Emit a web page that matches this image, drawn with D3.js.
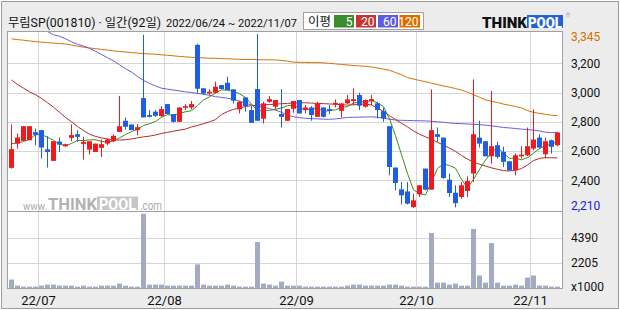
<!DOCTYPE html>
<html><head><meta charset="utf-8">
<script src="https://cdn.jsdelivr.net/npm/d3@7"></script>
<style>body{margin:0;background:#fff}svg{display:block}</style>
</head><body><svg id="c" width="620" height="310"></svg>
<script>
const opens=[2485,2651,2670,2674,2729,2743,2612,2533,2665,2633,2690,2715,2649,2610,2594,2622,2651,2667,2731,2807,2782,2743,2962,2846,2869,2839,2921,2853,2800,2896,2898,3326,3029,2994,2999,3051,3067,3022,2885,2967,2880,3024,2821,2937,2903,2853,2807,2889,2949,2880,2898,2834,2898,2887,2921,2875,2926,2942,2983,2903,2942,2926,2873,2770,2487,2338,2324,2217,2304,2480,2336,2715,2692,2404,2315,2286,2327,2446,2692,2667,2564,2640,2594,2530,2468,2564,2571,2617,2692,2578,2674,2640];
const highs=[2782,2720,2770,2770,2754,2743,2702,2667,2693,2651,2782,2743,2697,2667,2651,2679,2686,2713,2976,2830,2782,2784,3395,2880,2880,2907,2921,2853,2898,2921,2942,3333,3029,3022,3074,3051,3109,3022,2944,2967,2907,3400,2937,2976,2949,3024,2887,2942,2949,2914,2907,2937,2898,2914,2953,2926,2983,3029,2999,2953,2983,2937,2896,2770,2487,2388,2388,2308,2366,2480,3022,2761,2692,2446,2366,2388,2427,3090,2807,2667,3010,2663,2629,2530,2583,2633,2761,2885,2715,2692,2679,2731];
const lows=[2480,2617,2670,2674,2640,2549,2487,2533,2594,2629,2667,2663,2542,2576,2594,2560,2640,2660,2731,2747,2743,2708,2830,2830,2834,2834,2853,2793,2800,2880,2885,2994,2983,2983,2994,3024,3017,2926,2857,2869,2793,2807,2789,2930,2880,2761,2807,2862,2857,2857,2807,2834,2830,2853,2898,2830,2921,2914,2880,2898,2914,2823,2800,2434,2331,2235,2235,2210,2286,2331,2336,2663,2411,2286,2215,2274,2286,2388,2624,2564,2514,2549,2491,2468,2434,2549,2564,2606,2617,2549,2583,2633];
const closes=[2613,2693,2770,2770,2711,2624,2594,2667,2644,2647,2709,2697,2663,2667,2651,2647,2679,2704,2770,2766,2743,2763,2830,2834,2841,2887,2853,2800,2898,2907,2921,3026,2994,3006,3040,3024,3017,2944,2937,2907,2793,2807,2926,2955,2949,2834,2887,2942,2857,2898,2846,2926,2834,2875,2930,2926,2953,2955,2910,2949,2955,2880,2823,2491,2382,2297,2240,2263,2366,2336,2743,2697,2416,2313,2244,2366,2395,2715,2651,2564,2633,2560,2526,2468,2571,2576,2633,2679,2624,2667,2629,2727];
const volumes=[735,206,118,118,118,206,294,294,206,206,206,118,206,118,118,206,206,206,382,206,118,118,6468,294,294,294,206,206,206,206,206,2058,294,206,206,206,294,206,118,118,118,3998,382,294,206,559,206,206,206,118,118,118,118,118,118,118,206,294,294,206,206,206,206,294,294,206,118,118,118,118,4792,470,470,294,382,206,206,5145,1088,470,3910,470,206,206,294,206,911,1088,206,206,118,118];
const ma5Start=[2651,2655,2665,2680];
const ma20=[3086,3055,3030,3005,2985,2960,2930,2900,2865,2830,2800,2768,2740,2715,2700,2690,2683,2677,2675,2677,2683,2690,2697,2702,2710,2720,2728,2736,2743,2750,2765,2775,2787,2800,2815,2850,2870,2885,2893,2905,2910,2914,2916,2918,2921,2923,2926,2928,2930,2930,2928,2926,2924,2922,2920,2917,2914,2916,2920,2921,2915,2895,2870,2842,2815,2790,2765,2737,2715,2697,2680,2660,2640,2620,2598,2570,2545,2525,2510,2497,2485,2475,2466,2464,2470,2480,2505,2535,2550,2555,2554,2553];
const ma60=[null,null,null,null,null,null,3418,3395,3385,3368,3347,3330,3318,3302,3282,3260,3238,3217,3190,3163,3140,3110,3083,3062,3045,3030,3023,3017,3011,3005,3000,2994,2989,2981,2972,2967,2961,2954,2941,2928,2915,2905,2898,2890,2880,2865,2845,2835,2828,2824,2822,2820,2818,2817,2820,2825,2830,2831,2832,2833,2834,2831,2825,2818,2812,2810,2809,2808,2807,2806,2804,2800,2797,2792,2789,2787,2785,2783,2780,2777,2772,2767,2761,2758,2754,2750,2747,2743,2737,2729,2726,2725];
const ma120=[3367,3362,3358,3353,3348,3345,3341,3338,3335,3332,3325,3317,3310,3305,3300,3295,3290,3285,3281,3277,3273,3270,3266,3264,3262,3258,3255,3251,3247,3244,3241,3239,3237,3235,3234,3232,3231,3229,3227,3226,3226,3225,3224,3224,3223,3220,3215,3208,3207,3206,3205,3205,3203,3200,3196,3192,3189,3185,3182,3179,3175,3168,3160,3152,3137,3122,3102,3092,3083,3074,3064,3055,3045,3037,3027,3017,3003,2985,2968,2950,2940,2932,2921,2913,2904,2895,2876,2865,2857,2851,2845,2842];
const priceTicks=[3200,3000,2800,2600,2400];
const volTicks=[2205,4390];
const monthLabels=["22/07","22/08","22/09","22/10","22/11"];
const monthStartIdx=[5,26,48,68,87];
const maxLabel="3,345", minLabel="2,210";
const legendItems=[{t:"5",c:"#3b8c2a"},{t:"20",c:"#c83434"},{t:"60",c:"#5c5ce0"},{t:"120",c:"#dc6e00"}];
const titleName="무림SP(001810) · 일간(92일)";
const titleRange="2022/06/24 ~ 2022/11/07";

// 5-day moving average from closes (first values)
const ma5=closes.map((c,i)=> i<4 ? ma5Start[i] : d3.mean(closes.slice(i-4,i+1)));

const N=closes.length;
const svg=d3.select("#c");
const FONT="Roboto, 'Noto Sans', sans-serif";
const KFONT="Roboto, 'Noto Sans CJK KR', sans-serif";

const x=d3.scaleBand().domain(d3.range(N)).range([8,560]);
const y=d3.scaleLinear().domain([2400,3200]).range([180.3,63.3]);
const yv=d3.scaleLinear().domain([0,4390]).range([288,237.6]);
const cx=i=>x(i)+3.5;

// background
svg.append("rect").attr("x",0).attr("y",0).attr("width",620).attr("height",310).attr("fill","#fff");
svg.append("rect").attr("x",1.5).attr("y",1.5).attr("width",617).attr("height",307).attr("fill","#ececec").attr("stroke","#9c9c9c");
svg.append("rect").attr("x",7.5).attr("y",31.5).attr("width",555).attr("height",257).attr("fill","#fff");

const defs=svg.append("defs");
defs.append("clipPath").attr("id","pclip").append("rect").attr("x",8).attr("y",32).attr("width",554).attr("height",179);

// grid
const grid=svg.append("g").attr("stroke","#d6d6d6").attr("stroke-width",1);
priceTicks.forEach(t=>grid.append("line").attr("x1",8).attr("x2",562).attr("y1",Math.round(y(t))+0.5).attr("y2",Math.round(y(t))+0.5));
volTicks.forEach(t=>grid.append("line").attr("x1",8).attr("x2",562).attr("y1",Math.round(yv(t))+0.5).attr("y2",Math.round(yv(t))+0.5));
monthStartIdx.forEach(i=>grid.append("line").attr("x1",x(i)+0.5).attr("x2",x(i)+0.5).attr("y1",32).attr("y2",288));

// watermark
const wm=svg.append("g");
wm.append("text").attr("x",23).attr("y",209.5).attr("font-family",FONT).attr("font-size",11).attr("textLength",24).attr("lengthAdjust","spacingAndGlyphs").attr("fill","#aaaaaa").text("www.");
wm.append("text").attr("x",48).attr("y",209.5).attr("font-family",FONT).attr("font-weight","bold").attr("font-size",17).attr("textLength",49).attr("lengthAdjust","spacingAndGlyphs").attr("fill","#b2b2b2").text("THINK");
wm.append("rect").attr("x",97).attr("y",196.5).attr("width",41).attr("height",13.5).attr("fill","#c6c6c6");
wm.append("text").attr("x",99).attr("y",209.5).attr("font-family",FONT).attr("font-weight","bold").attr("font-size",16).attr("textLength",37).attr("lengthAdjust","spacingAndGlyphs").attr("fill","#ffffff").text("POOL");
wm.append("text").attr("x",140).attr("y",209.5).attr("font-family",FONT).attr("font-size",12).attr("textLength",22).attr("lengthAdjust","spacingAndGlyphs").attr("fill","#aaaaaa").text(".com");

// MA lines
const pg=svg.append("g").attr("clip-path","url(#pclip)");
const line=d3.line().defined(d=>d!=null).x((d,i)=>cx(i)).y(d=>y(d));
function drawMA(arr,color){
  pg.append("path").datum(arr).attr("fill","none").attr("stroke",color).attr("stroke-width",1).attr("d",line);
}
drawMA(ma120,"#d87000");
drawMA(ma60,"#6a5ce0");
drawMA(ma20,"#b52a2a");
drawMA(ma5,"#3a8c1e");

// candles
const UP="#f01a1e", DOWN="#1f5ee2";
const cg=pg.append("g");
d3.range(N).forEach(i=>{
  const up=closes[i]>=opens[i];
  const col=up?UP:DOWN;
  cg.append("line").attr("x1",cx(i)).attr("x2",cx(i)).attr("y1",y(highs[i])).attr("y2",y(lows[i])).attr("stroke",col).attr("stroke-width",1);
  const t=y(Math.max(opens[i],closes[i])), b=y(Math.min(opens[i],closes[i]));
  cg.append("rect").attr("x",x(i)+1).attr("y",t).attr("width",5).attr("height",Math.max(1.2,b-t)).attr("fill",col);
});

// volume
svg.append("g").selectAll("rect").data(volumes).join("rect")
  .attr("x",(d,i)=>x(i)+1).attr("width",5)
  .attr("y",d=>yv(d)).attr("height",d=>288-yv(d)).attr("fill","#a3abc4");

// frame
svg.append("rect").attr("x",7.5).attr("y",31.5).attr("width",555).attr("height",257).attr("fill","none").attr("stroke","#a0a0a0");
svg.append("line").attr("x1",7.5).attr("x2",562.5).attr("y1",211.5).attr("y2",211.5).attr("stroke","#a0a0a0");

// right axis labels
const ax=svg.append("g").attr("transform","translate(562,0)")
  .call(d3.axisRight(y).tickValues(priceTicks).tickSize(0).tickPadding(9).tickFormat(d3.format(",")));
ax.select(".domain").remove();
ax.selectAll("text").attr("font-family",FONT).attr("font-size",12).attr("fill","#111");
const axv=svg.append("g").attr("transform","translate(562,0)")
  .call(d3.axisRight(yv).tickValues(volTicks).tickSize(0).tickPadding(9).tickFormat(d3.format("d")));
axv.select(".domain").remove();
axv.selectAll("text").attr("font-family",FONT).attr("font-size",12).attr("fill","#111");
svg.append("text").attr("x",571).attr("y",37).attr("dy","0.35em").attr("font-family",FONT).attr("font-size",12).attr("fill","#d86e00").text(maxLabel);
svg.append("text").attr("x",571).attr("y",206).attr("dy","0.35em").attr("font-family",FONT).attr("font-size",12).attr("fill","#1a1ad2").text(minLabel);
svg.append("text").attr("x",571).attr("y",286.5).attr("dy","0.35em").attr("font-family",FONT).attr("font-size",12).attr("fill","#111").text("x1000");

// x axis labels
monthStartIdx.forEach((idx,k)=>{
  svg.append("text").attr("x",x(idx)+0.5).attr("y",300.5).attr("dy","0.35em").attr("text-anchor","middle")
    .attr("font-family",FONT).attr("font-size",13).attr("fill","#111").text(monthLabels[k]);
});

// title (two parts)
svg.append("text").attr("x",8).attr("y",27).attr("font-family",KFONT).attr("font-size",12).attr("fill","#111")
  .attr("textLength",153).attr("lengthAdjust","spacingAndGlyphs").text(titleName);
svg.append("text").attr("x",297).attr("y",27).attr("text-anchor","end").attr("font-family",FONT).attr("font-size",11.7).attr("fill","#111")
  .attr("textLength",131).attr("lengthAdjust","spacingAndGlyphs").text(titleRange);

// legend
svg.append("rect").attr("x",303.5).attr("y",12.5).attr("width",120).attr("height",17).attr("fill","#fff").attr("stroke","#a0a0a0");
svg.append("text").attr("x",308).attr("y",26).attr("font-family",KFONT).attr("font-size",12).attr("textLength",23).attr("lengthAdjust","spacingAndGlyphs").attr("fill","#111").text("이평");
const lx=[334,356,378,399.5], lw=[20,20,20,20.5];
legendItems.forEach((it,k)=>{
  svg.append("rect").attr("x",lx[k]).attr("y",15).attr("width",lw[k]).attr("height",12.5).attr("fill",it.c);
  svg.append("text").attr("x",lx[k]+lw[k]-1.5).attr("y",25.8).attr("text-anchor","end").attr("font-family",FONT).attr("font-size",12).attr("fill","#fff").text(it.t);
});

// logo
svg.append("text").attr("x",482).attr("y",27.5).attr("font-family",FONT).attr("font-weight","900").attr("font-size",15).attr("textLength",45).attr("lengthAdjust","spacingAndGlyphs").attr("fill","#111").text("THINK");
svg.append("rect").attr("x",527).attr("y",15).attr("width",36).attr("height",13).attr("fill","#1f62d8");
svg.append("text").attr("x",528).attr("y",27.5).attr("font-family",FONT).attr("font-weight","900").attr("font-size",15).attr("textLength",34).attr("lengthAdjust","spacingAndGlyphs").attr("fill","#fff").text("POOL");
svg.append("text").attr("x",566).attr("y",17).attr("font-family",FONT).attr("font-size",5).attr("fill","#999").text("®");
</script></body></html>
